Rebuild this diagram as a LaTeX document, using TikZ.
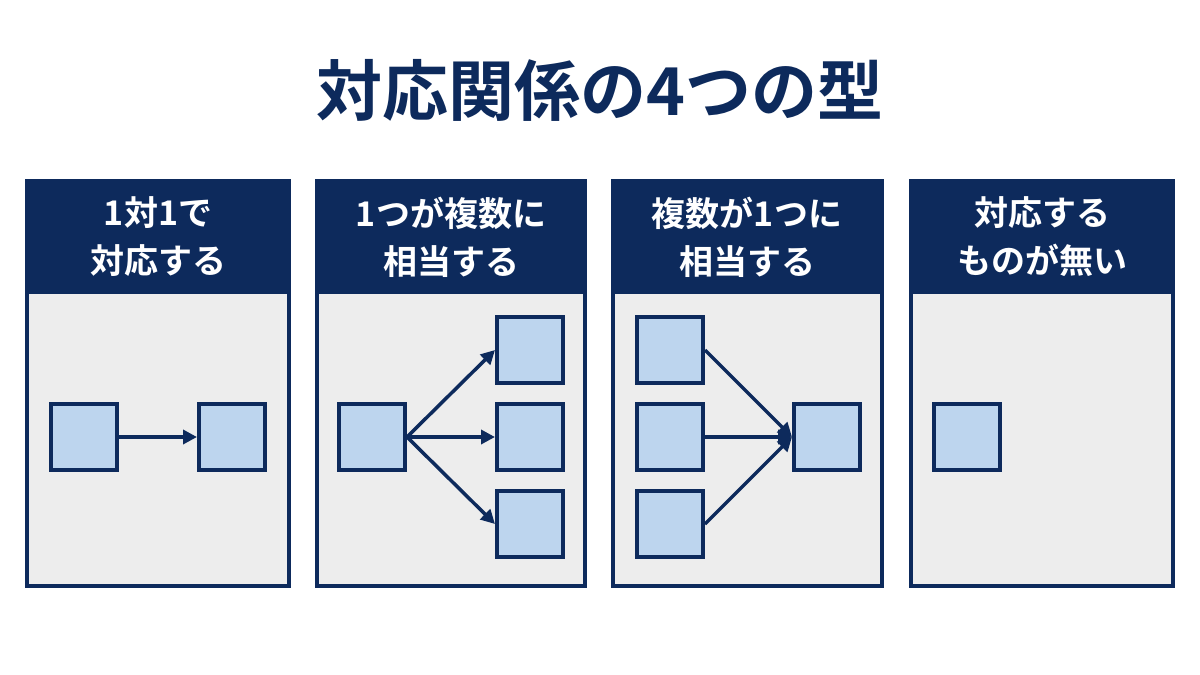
\documentclass[tikz,border=0pt]{standalone}
\usepackage{fontspec}
\newfontfamily\jp{Noto Sans CJK JP}[BoldFont={* Bold}]
\usetikzlibrary{arrows.meta}
\definecolor{navy}{HTML}{0D2A5C}
\definecolor{bodyg}{HTML}{EDEDED}
\definecolor{boxb}{HTML}{BDD5EE}
\begin{document}
\begin{tikzpicture}[x=1pt,y=-1pt,
  panel/.style={draw=navy,line width=4pt,fill=bodyg},
  htext/.style={text=white,font=\jp\bfseries\fontsize{34}{48}\selectfont,align=center},
  bx/.style={draw=navy,line width=4pt,fill=boxb,minimum width=66pt,minimum height=66pt,inner sep=0pt},
  ar/.style={draw=navy,line width=3.5pt,-{Triangle[length=14pt,width=14pt]}}]
\useasboundingbox[fill=white] (0,0) rectangle (1200,675);
\node[font=\jp\bfseries\fontsize{66}{72}\selectfont,text=navy] (title) at (600,90) {対応関係の4つの型};
\foreach \a/\b/\n in {27/289/p1,317/585/p2,613/882/p3,911/1173/p4}{
  \fill[navy] (\a,181) rectangle (\b,292);
  \draw[panel] (\a,292) rectangle (\b,586);
  \draw[navy,line width=4pt] (\a,181) rectangle (\b,586);
}
\node[htext] (h1) at (158,237) {1対1で\\対応する};
\node[htext] (h2) at (451,237) {1つが複数に\\相当する};
\node[htext] (h3) at (747,237) {複数が1つに\\相当する};
\node[htext] (h4) at (1042,237) {対応する\\ものが無い};
% panel 1
\node[bx] (a1) at (84,437) {};
\node[bx] (b1) at (232,437) {};
\draw[ar] (a1.east) -- (b1.west);
% panel 2
\node[bx] (s2) at (372,437) {};
\node[bx] (t2a) at (530,350) {};
\node[bx] (t2b) at (530,437) {};
\node[bx] (t2c) at (530,524) {};
\foreach \t in {t2a,t2b,t2c} \draw[ar] (s2.east) -- (\t.west);
% panel 3
\node[bx] (s3a) at (670,350) {};
\node[bx] (s3b) at (670,437) {};
\node[bx] (s3c) at (670,524) {};
\node[bx] (t3) at (827,437) {};
\foreach \s in {s3a,s3b,s3c} \draw[ar] (\s.east) -- (t3.west);
% panel 4
\node[bx] (a4) at (967,437) {};
\end{tikzpicture}
\end{document}
